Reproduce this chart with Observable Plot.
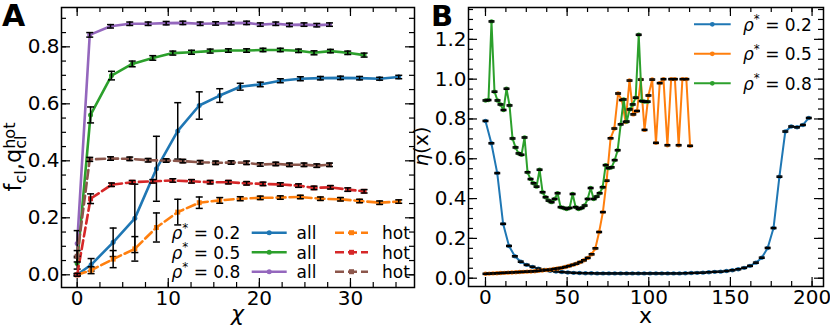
<!DOCTYPE html>
<html><head><meta charset="utf-8">
<script src="https://cdn.jsdelivr.net/npm/d3@7"></script>
<script src="https://cdn.jsdelivr.net/npm/@observablehq/plot@0.6"></script>
<style>
body{margin:0;background:#fff;}
#wrap{position:relative;width:830px;height:328px;overflow:hidden;background:#fff;font-family:"DejaVu Sans";}
#wrap svg{position:absolute;top:0;}
</style></head><body><div id="wrap"></div>
<script>
// ---------------- Panel A data ----------------
const chiRho02 = [0, 1.53, 3.95, 6.33, 8.7, 11.04, 13.4, 15.65, 17.9, 20.1, 22.3, 24.5, 26.7, 28.9, 31.0, 33.2, 35.3];
const chiRho05 = [0, 1.47, 3.77, 6.04, 8.3, 10.5, 12.55, 14.6, 16.6, 18.6, 20.4, 22.3, 24.3, 26.0, 27.8, 29.7, 31.5];
const chiRho08 = [0, 1.38, 3.66, 5.77, 7.79, 9.77, 11.6, 13.5, 15.2, 16.9, 18.6, 20.1, 21.8, 23.3, 24.9, 26.3, 27.7];

const all02 = [0.0, 0.035, 0.114, 0.198, 0.372, 0.505, 0.594, 0.629, 0.660, 0.668, 0.681, 0.688, 0.690, 0.691, 0.690, 0.688, 0.694];
const all02Err = [0.003, 0.022, 0.05, 0.12, 0.114, 0.099, 0.048, 0.024, 0.012, 0.008, 0.007, 0.007, 0.006, 0.006, 0.006, 0.005, 0.006];
const hot02 = [0.0, 0.016, 0.055, 0.091, 0.166, 0.22, 0.253, 0.261, 0.267, 0.270, 0.271, 0.273, 0.267, 0.265, 0.259, 0.253, 0.257];
const hot02Err = [0.003, 0.012, 0.03, 0.043, 0.051, 0.045, 0.02, 0.01, 0.007, 0.006, 0.006, 0.006, 0.006, 0.006, 0.006, 0.006, 0.006];

const all05 = [0.04, 0.561, 0.699, 0.740, 0.761, 0.778, 0.781, 0.785, 0.787, 0.787, 0.789, 0.789, 0.786, 0.779, 0.785, 0.779, 0.771];
const all05Err = [0.02, 0.028, 0.015, 0.01, 0.008, 0.007, 0.007, 0.007, 0.006, 0.006, 0.006, 0.006, 0.006, 0.007, 0.006, 0.006, 0.007];
const hot05 = [0.0, 0.267, 0.316, 0.325, 0.328, 0.331, 0.328, 0.325, 0.325, 0.321, 0.319, 0.317, 0.313, 0.305, 0.307, 0.299, 0.293];
const hot05Err = [0.005, 0.017, 0.006, 0.006, 0.006, 0.006, 0.006, 0.006, 0.006, 0.006, 0.006, 0.006, 0.006, 0.006, 0.006, 0.006, 0.006];

const all08 = [0.11, 0.842, 0.872, 0.881, 0.881, 0.883, 0.884, 0.881, 0.882, 0.883, 0.884, 0.878, 0.881, 0.877, 0.878, 0.876, 0.878];
const all08Err = [0.045, 0.008, 0.006, 0.006, 0.006, 0.006, 0.006, 0.006, 0.006, 0.006, 0.006, 0.006, 0.006, 0.006, 0.006, 0.006, 0.006];
const hot08 = [0.065, 0.405, 0.408, 0.407, 0.402, 0.401, 0.399, 0.395, 0.393, 0.394, 0.393, 0.387, 0.389, 0.386, 0.386, 0.383, 0.386];
const hot08Err = [0.02, 0.007, 0.006, 0.006, 0.006, 0.006, 0.006, 0.006, 0.006, 0.006, 0.006, 0.006, 0.006, 0.006, 0.006, 0.006, 0.006];

const xTicksA = [0, 10, 20, 30];
const yTicksA = [0, 0.2, 0.4, 0.6, 0.8];

// ---------------- Panel B data ----------------
const xRho02 = [0,3.6,7.2,10.8,14.4,18,21.6,25.2,28.8,32.4,36,39.6,43.2,46.8,50.4,54,57.6,61.2,64.8,68.4,72,75.6,79.2,82.8,86.4,90,93.6,97.2,100.8,104.4,108,111.6,115.2,118.8,122.4,126,129.6,133.2,136.8,140.4,144,147.6,151.2,154.8,158.4,162,165.6,169.2,172.8,176.4,180,183.6,187.2,190.8,194.4,198];
const etaRho02 = [0.79,0.678,0.528,0.273,0.162,0.110,0.083,0.067,0.057,0.048,0.042,0.037,0.034,0.031,0.029,0.027,0.026,0.025,0.025,0.024,0.024,0.024,0.024,0.024,0.024,0.024,0.024,0.024,0.024,0.024,0.024,0.024,0.024,0.024,0.025,0.026,0.027,0.028,0.030,0.032,0.033,0.036,0.040,0.045,0.052,0.062,0.078,0.103,0.152,0.252,0.51,0.737,0.762,0.758,0.770,0.805];

const xRho05 = [0,2.3,4.6,7.0,9.3,11.6,13.9,16.2,18.6,20.9,23.2,25.5,27.8,30.2,32.5,34.8,37.1,39.4,41.8,44.1,46.4,48.7,51.0,53.4,55.7,58.0,60.3,62.6,65.0,67.3,69.6,71.9,74.2,76.6,78.9,81.2,83.5,85.8,88.2,90.5,92.8,95.1,97.4,99.8,102.1,104.4,106.7,109.0,111.4,113.7,116.0,118.3,120.6,123.0,125.3];
const etaRho05 = [0.022,0.023,0.024,0.025,0.026,0.027,0.028,0.029,0.030,0.031,0.032,0.033,0.034,0.035,0.037,0.039,0.041,0.043,0.046,0.049,0.052,0.056,0.061,0.067,0.073,0.081,0.090,0.102,0.120,0.150,0.232,0.332,0.49,0.703,0.752,0.928,0.895,0.785,0.993,0.823,0.84,0.998,0.745,0.918,0.998,0.68,0.98,1.0,0.668,1.0,1.0,0.668,1.0,1.0,0.665];

const xRho08 = [0,1.84,3.68,5.52,7.36,9.2,11.04,12.88,14.72,16.56,18.4,20.24,22.08,23.92,25.76,27.6,29.44,31.28,33.12,34.96,36.8,38.64,40.48,42.32,44.16,46,47.84,49.68,51.52,53.36,55.2,57.04,58.88,60.72,62.56,64.4,66.24,68.08,69.92,71.76,73.6,75.44,77.28,79.12,80.96,82.8,84.64,86.48,88.32,90.16,92,93.84,95.68,97.52,99.36];
const etaRho08 = [0.893,0.895,1.29,0.937,0.893,0.873,0.845,0.952,0.868,0.702,0.657,0.627,0.62,0.707,0.532,0.498,0.477,0.46,0.545,0.432,0.407,0.39,0.382,0.398,0.427,0.357,0.353,0.348,0.353,0.423,0.357,0.348,0.353,0.365,0.398,0.453,0.398,0.41,0.427,0.457,0.568,0.553,0.557,0.593,0.643,0.773,0.898,0.787,0.848,0.873,0.907,1.223,0.89,0.887,0.887];
const etaErr = 0.003;

const xTicksB = [0, 50, 100, 150, 200];
const yTicksB = [0, 0.2, 0.4, 0.6, 0.8, 1.0, 1.2];

const rhoLabels = ["0.2", "0.5", "0.8"];
const blue = "#1f77b4", orange = "#ff7f0e", green = "#2ca02c", red = "#d62728", purple = "#9467bd", brown = "#8c564b";

// ---------------- helpers ----------------
const H = 328;
const FONT = "DejaVu Sans";
const capSymbol = {draw(ctx, size) { const r = Math.sqrt(size / Math.PI); ctx.moveTo(-r, 0); ctx.lineTo(r, 0); }};

function rows(xs, ys, errs) {
  return ys.map((v, i) => ({x: xs[i], y: v, e: Array.isArray(errs) ? errs[i] : errs}));
}
function caps(data) {
  return data.flatMap(d => [{x: d.x, y: d.y - d.e}, {x: d.x, y: d.y + d.e}]);
}
function tickMarks(xMajor, xMinor, yMajor, yMinor, innerW, innerH, lenMaj, lenMin) {
  const st = {stroke: "black", strokeWidth: 1.2};
  return [
    Plot.tickX(xMinor, {x: d => d, insetTop: innerH - lenMin, ...st}),
    Plot.tickX(xMinor, {x: d => d, insetBottom: innerH - lenMin, ...st}),
    Plot.tickX(xMajor, {x: d => d, insetTop: innerH - lenMaj, ...st}),
    Plot.tickX(xMajor, {x: d => d, insetBottom: innerH - lenMaj, ...st}),
    Plot.tickY(yMinor, {y: d => d, insetRight: innerW - lenMin, ...st}),
    Plot.tickY(yMinor, {y: d => d, insetLeft: innerW - lenMin, ...st}),
    Plot.tickY(yMajor, {y: d => d, insetRight: innerW - lenMaj, ...st}),
    Plot.tickY(yMajor, {y: d => d, insetLeft: innerW - lenMaj, ...st})
  ];
}

// ---------------- Panel A ----------------
function panelA() {
  const w = 416, mL = 61, mR = 2, mT = 7, mB = 41;
  const innerW = w - mL - mR, innerH = H - mT - mB;
  const series = [
    {d: rows(chiRho02, all02, all02Err), c: blue, hot: false},
    {d: rows(chiRho02, hot02, hot02Err), c: orange, hot: true},
    {d: rows(chiRho05, all05, all05Err), c: green, hot: false},
    {d: rows(chiRho05, hot05, hot05Err), c: red, hot: true},
    {d: rows(chiRho08, all08, all08Err), c: purple, hot: false},
    {d: rows(chiRho08, hot08, hot08Err), c: brown, hot: true}
  ];
  const marks = [];
  for (const s of series) {
    marks.push(Plot.line(s.d, {x: "x", y: "y", stroke: s.c, strokeWidth: 2.6, strokeDasharray: s.hot ? "9,4" : null}));
    marks.push(s.hot
      ? Plot.dot(s.d, {x: "x", y: "y", symbol: "square", r: 2.8, fill: s.c, stroke: "none"})
      : Plot.dot(s.d, {x: "x", y: "y", r: 2.5, fill: s.c, stroke: "none"}));
    marks.push(Plot.ruleX(s.d, {x: "x", y1: d => d.y - d.e, y2: d => d.y + d.e, stroke: "black", strokeWidth: 1.5}));
    marks.push(Plot.dot(caps(s.d), {x: "x", y: "y", symbol: capSymbol, r: 3.5, fill: "none", stroke: "black", strokeWidth: 1.5}));
  }
  marks.push(...tickMarks(xTicksA, d3.range(0, 36, 2.5), yTicksA, d3.range(0, 0.91, 0.05), innerW, innerH, 9, 5));
  marks.push(Plot.frame({stroke: "black", strokeWidth: 1.5}));
  marks.push(Plot.axisX({ticks: xTicksA, tickSize: 0, tickPadding: 3, fontSize: 20, label: null, tickFormat: d3.format("d")}));
  marks.push(Plot.axisY({ticks: yTicksA, tickSize: 0, tickPadding: 2, fontSize: 20, label: null, tickFormat: d3.format(".1f")}));
  const p = Plot.plot({
    width: w, height: H, marginLeft: mL, marginRight: mR, marginTop: mT, marginBottom: mB,
    x: {domain: [-1.72, 37.03]}, y: {domain: [-0.0446, 0.938]},
    style: {fontFamily: FONT, fontSize: "20px", color: "black", background: "transparent", overflow: "visible"},
    marks
  });
  p.style.left = "0px";
  return p;
}

// ---------------- Panel B ----------------
function panelB() {
  const left = 416, w = 414, mL = 52, mR = 7, mT = 7, mB = 42;
  const innerW = w - mL - mR, innerH = H - mT - mB;
  const series = [
    {d: rows(xRho02, etaRho02, etaErr), c: blue},
    {d: rows(xRho05, etaRho05, etaErr), c: orange},
    {d: rows(xRho08, etaRho08, etaErr), c: green}
  ];
  const marks = [];
  for (const s of series) {
    marks.push(Plot.line(s.d, {x: "x", y: "y", stroke: s.c, strokeWidth: 2}));
    marks.push(Plot.dot(s.d, {x: "x", y: "y", r: 2.2, fill: s.c, stroke: "none"}));
    marks.push(Plot.dot(caps(s.d), {x: "x", y: "y", symbol: capSymbol, r: 3, fill: "none", stroke: "black", strokeWidth: 1.4}));
  }
  marks.push(...tickMarks(xTicksB, d3.range(0, 201, 12.5), yTicksB, d3.range(0, 1.36, 0.05), innerW, innerH, 9, 5));
  marks.push(Plot.frame({stroke: "black", strokeWidth: 1.5}));
  marks.push(Plot.axisX({ticks: xTicksB, tickSize: 0, tickPadding: 3, fontSize: 20, label: null, tickFormat: d3.format("d")}));
  marks.push(Plot.axisY({ticks: yTicksB, tickSize: 0, tickPadding: 2, fontSize: 20, label: null, tickFormat: d3.format(".1f")}));
  const p = Plot.plot({
    width: w, height: H, marginLeft: mL, marginRight: mR, marginTop: mT, marginBottom: mB,
    x: {domain: [-10.4, 207.0]}, y: {domain: [-0.0417, 1.360]},
    style: {fontFamily: FONT, fontSize: "20px", color: "black", background: "transparent", overflow: "visible"},
    marks
  });
  p.style.left = left + "px";
  return p;
}

const wrap = document.getElementById("wrap");
wrap.appendChild(panelA());
wrap.appendChild(panelB());

// ---------------- overlay: panel letters, axis labels, legends ----------------
const ov = d3.create("svg").attr("width", 830).attr("height", H)
  .style("left", "0px").style("pointer-events", "none")
  .attr("font-family", FONT).attr("fill", "black");
wrap.appendChild(ov.node());

ov.append("text").attr("x", 2).attr("y", 26).attr("font-size", 30).attr("font-weight", "bold").text("A");
ov.append("text").attr("x", 431).attr("y", 26).attr("font-size", 29).attr("font-weight", "bold").text("B");

ov.append("text").attr("x", 237.5).attr("y", 321).attr("font-size", 22).attr("font-style", "italic")
  .attr("text-anchor", "middle").text("χ");
ov.append("text").attr("x", 645.5).attr("y", 323).attr("font-size", 22)
  .attr("text-anchor", "middle").text("x");

// y label A: f_cl, q_cl^hot
{
  const g = ov.append("g").attr("transform", "translate(20.5,157) rotate(-90)");
  const t = g.append("text").attr("font-size", 22.5).style("white-space", "pre");
  t.append("tspan").text("f");
  t.append("tspan").attr("font-size", 16).attr("dy", 5).text("cl");
  t.append("tspan").attr("dy", -5).text(",");
  t.append("tspan").text("q");
  const cl = t.append("tspan").attr("font-size", 16).attr("dy", 5).text("cl");
  const clw = cl.node().getComputedTextLength();
  t.append("tspan").attr("font-size", 16).attr("dy", -11).attr("dx", -clw).text("hot");
  const bb = t.node().getBBox();
  t.attr("x", -bb.width / 2 - bb.x);
}
// y label B: η(x)
{
  const g = ov.append("g").attr("transform", "translate(428,146.5) rotate(-90)");
  const t = g.append("text").attr("font-size", 20).attr("text-anchor", "middle");
  t.append("tspan").attr("font-style", "italic").text("η");
  t.append("tspan").text("(x)");
}

function rhoText(x, y, val, size) {
  const t = ov.append("text").attr("x", x).attr("y", y).attr("font-size", size).style("white-space", "pre");
  t.append("tspan").attr("font-style", "italic").text("ρ");
  t.append("tspan").attr("font-size", size * 0.7).attr("dy", -size * 0.45).text("*");
  t.append("tspan").attr("dy", size * 0.45).text(" = " + val);
}
function swatch(x1, x2, y, color, dashed, w) {
  ov.append("line").attr("x1", x1).attr("x2", x2).attr("y1", y).attr("y2", y)
    .attr("stroke", color).attr("stroke-width", w).attr("stroke-dasharray", dashed ? "9,4" : null);
  const cx = (x1 + x2) / 2;
  if (dashed) ov.append("rect").attr("x", cx - 2.5).attr("y", y - 2.5).attr("width", 5).attr("height", 5).attr("fill", color);
  else ov.append("circle").attr("cx", cx).attr("cy", y).attr("r", 2.5).attr("fill", color);
}

// legend A
const legAll = [blue, green, purple], legHot = [orange, red, brown];
const rowYA = [232.7, 252.3, 271.7];
rhoLabels.forEach((lab, i) => {
  const y = rowYA[i];
  rhoText(171.5, y + 6.5, lab, 17);
  swatch(251.7, 286.7, y, legAll[i], false, 2.6);
  ov.append("text").attr("x", 296.5).attr("y", y + 6.5).attr("font-size", 17).text("all");
  swatch(335, 368, y, legHot[i], true, 2.6);
  ov.append("text").attr("x", 382).attr("y", y + 6.5).attr("font-size", 17).text("hot");
});

// legend B
const legB = [blue, orange, green];
const rowYB = [24.3, 53.8, 83.3];
rhoLabels.forEach((lab, i) => {
  const y = rowYB[i];
  ov.append("line").attr("x1", 694).attr("x2", 730.7).attr("y1", y).attr("y2", y)
    .attr("stroke", legB[i]).attr("stroke-width", 2);
  ov.append("circle").attr("cx", 712.3).attr("cy", y).attr("r", 2.4).attr("fill", legB[i]);
  rhoText(743, y + 6.5, lab, 17);
});
</script></body></html>
